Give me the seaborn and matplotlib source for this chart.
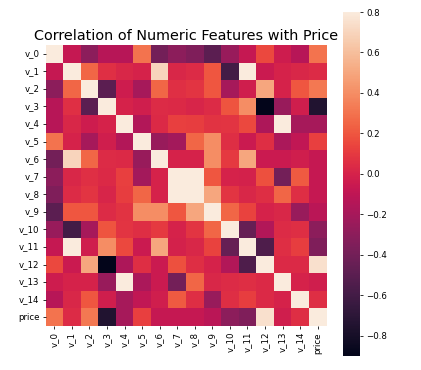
import numpy as np
import pandas as pd
import matplotlib
matplotlib.use('Agg')
import matplotlib.pyplot as plt
import seaborn as sns

features = ['v_0', 'v_1', 'v_2', 'v_3', 'v_4', 'v_5', 'v_6', 'v_7',
            'v_8', 'v_9', 'v_10', 'v_11', 'v_12', 'v_13', 'v_14', 'price']

# upper triangle of the correlation matrix, read row by row (diagonal left out)
upper_rows = [
    [-0.07, -0.30, -0.13, -0.13, 0.30, -0.40, -0.30, -0.35, -0.50, -0.25, -0.07, 0.15, -0.04, -0.13, 0.30],
    [0.25, 0.06, 0.02, 0.00, 0.70, 0.02, 0.04, 0.20, -0.60, 0.80, -0.05, 0.00, 0.02, 0.04],
    [-0.50, -0.04, -0.20, 0.25, 0.06, 0.08, 0.20, -0.20, -0.03, 0.50, 0.00, 0.20, 0.32],
    [0.00, -0.03, 0.04, 0.03, 0.01, 0.04, 0.19, 0.40, -0.90, -0.25, -0.03, -0.75],
    [-0.15, 0.03, 0.12, 0.11, 0.07, 0.08, 0.15, -0.17, 0.85, -0.20, -0.20],
    [-0.25, -0.21, 0.25, 0.40, 0.05, -0.05, 0.05, -0.18, -0.09, 0.12],
    [0.00, 0.00, 0.40, 0.10, 0.50, -0.05, -0.05, -0.03, -0.07],
    [0.95, 0.20, 0.00, -0.01, 0.18, -0.40, 0.21, -0.07],
    [0.50, 0.08, 0.02, 0.05, 0.25, 0.05, -0.07],
    [0.25, 0.13, 0.00, 0.02, -0.25, -0.12],
    [-0.45, -0.15, 0.04, 0.05, -0.30],
    [-0.55, 0.05, 0.11, -0.35],
    [0.03, 0.03, 0.75],
    [0.00, -0.03],
    [0.05],
]

n = len(features)
corr = np.eye(n)
for i, row in enumerate(upper_rows):
    for k, val in enumerate(row):
        j = i + 1 + k
        corr[i, j] = val
        corr[j, i] = val
correlation = pd.DataFrame(corr, index=features, columns=features)

W, H = 421, 370
fig = plt.figure(figsize=(W / 72, H / 72), dpi=72)
ax = fig.add_axes([45 / W, (H - 326) / H, 282 / W, 281 / H])
cax = fig.add_axes([343 / W, 14 / H, 17 / W, 344 / H])

sns.heatmap(correlation, square=True, vmax=0.8, ax=ax, cbar_ax=cax)
ax.set_title('Correlation of Numeric Features with Price', size=14.4, pad=5)
ax.set_xticklabels(features, rotation=90)
ax.set_yticklabels(features, rotation=0)
ax.tick_params(labelsize=8.6, length=3, pad=3)
cax.tick_params(labelsize=8.6, length=3, pad=3)

plt.savefig('out.png', dpi=72)
